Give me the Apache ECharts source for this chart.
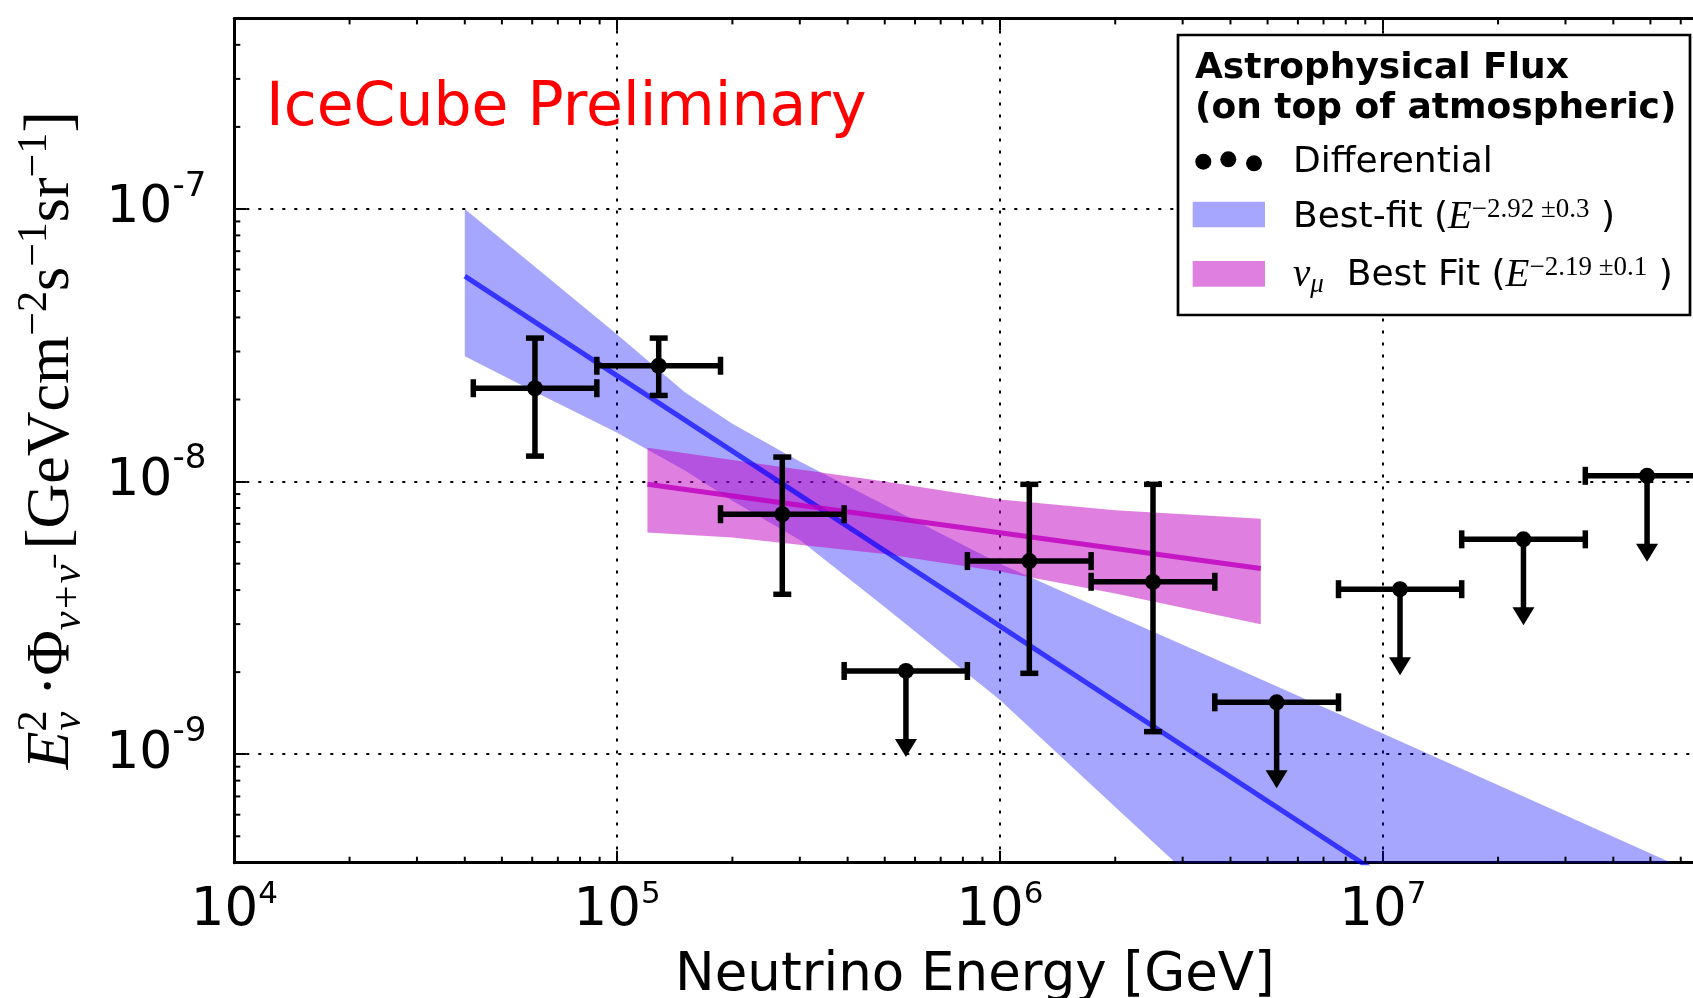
<!DOCTYPE html>
<html>
<head>
<meta charset="utf-8">
<title>Astrophysical neutrino flux</title>
<script src="https://cdn.jsdelivr.net/npm/echarts@6/dist/echarts.min.js"></script>
<style>
  html, body { margin: 0; padding: 0; background: #fff; overflow: hidden; width: 1693px; height: 998px; }
  #chart { width: 1760px; height: 998px; }
</style>
</head>
<body>
<div id="chart"></div>
<script>
// ---- Axis ranges (GeV, GeV cm^-2 s^-1 sr^-1) ----
const X_MIN = 1e4;
const X_MAX = 7.4e7;
const Y_MIN = 4e-10;
const Y_MAX = 5e-7;

// ---- Minor tick positions ----
const xMinorTicks = [2e4, 3e4, 4e4, 5e4, 6e4, 7e4, 8e4, 9e4,
  2e5, 3e5, 4e5, 5e5, 6e5, 7e5, 8e5, 9e5,
  2e6, 3e6, 4e6, 5e6, 6e6, 7e6, 8e6, 9e6,
  2e7, 3e7, 4e7, 5e7, 6e7, 7e7];
const yMinorTicks = [5e-10, 6e-10, 7e-10, 8e-10, 9e-10,
  2e-9, 3e-9, 4e-9, 5e-9, 6e-9, 7e-9, 8e-9, 9e-9,
  2e-8, 3e-8, 4e-8, 5e-8, 6e-8, 7e-8, 8e-8, 9e-8,
  2e-7, 3e-7, 4e-7];

// ---- Differential flux (E^2 * flux) per energy bin ----
const binCenter = [6.10e4, 1.284e5, 2.70e5, 5.68e5, 1.193e6, 2.51e6, 5.28e6, 1.109e7, 2.33e7, 4.90e7];
const binLow    = [4.21e4, 8.85e4, 1.862e5, 3.917e5, 8.22e5, 1.730e6, 3.64e6, 7.66e6, 1.607e7, 3.38e7];
const binHigh   = [8.85e4, 1.862e5, 3.917e5, 8.22e5, 1.730e6, 3.64e6, 7.66e6, 1.607e7, 3.38e7, 7.11e7];
const flux      = [2.20e-8, 2.66e-8, 7.59e-9, 2.02e-9, 5.11e-9, 4.29e-9, 1.55e-9, 4.03e-9, 6.14e-9, 1.05e-8];
const fluxLow   = [1.24e-8, 2.07e-8, 3.86e-9, null, 1.98e-9, 1.21e-9, null, null, null, null];
const fluxHigh  = [3.36e-8, 3.36e-8, 1.23e-8, null, 9.77e-9, 9.77e-9, null, null, null, null];
const isUpperLimit = [false, false, false, true, false, false, true, true, true, true];

// ---- Best-fit power law (E^-2.92) and its uncertainty band ----
const bestFitLineEnergy = [4.0e4, 1.0e6, 1.0e7];
const bestFitLineFlux   = [5.67e-8, 2.95e-9, 3.56e-10];
const bestFitBandEnergy = [4.0e4, 6e4, 1e5, 1.5e5, 2e5, 3e5, 5e5, 1e6, 2e6, 4e6, 1e7, 3e7, 7.4e7];
const bestFitBandUpper  = [1.0e-7, 6.26e-8, 3.46e-8, 2.13e-8, 1.63e-8, 1.186e-8, 8.2e-9, 5.0e-9, 3.24e-9, 2.11e-9, 1.19e-9, 5.97e-10, 3.38e-10];
const bestFitBandLower  = [2.88e-8, 2.16e-8, 1.51e-8, 1.10e-8, 8.5e-9, 6.1e-9, 3.47e-9, 1.58e-9, 6.4e-10, 2.6e-10, 7.8e-11, 2.0e-11, 6.0e-12];

// ---- Muon-neutrino best fit (E^-2.19) and its band ----
const numuLineEnergy = [1.2e5, 1.0e6, 4.8e6];
const numuLineFlux   = [9.77e-9, 6.49e-9, 4.80e-9];
const numuBandEnergy = [1.2e5, 2e5, 5e5, 1e6, 2e6, 4.8e6];
const numuBandUpper  = [1.33e-8, 1.20e-8, 1.0e-8, 8.6e-9, 7.85e-9, 7.3e-9];
const numuBandLower  = [6.5e-9, 6.24e-9, 5.43e-9, 4.68e-9, 3.89e-9, 3.0e-9];

// ---- Colours ----
const BLUE_BAND = 'rgba(0,0,255,0.35)';
const BLUE_LINE = 'rgba(0,0,255,0.68)';
const PINK_BAND = 'rgba(191,0,191,0.5)';
const PINK_LINE = 'rgba(191,0,191,0.82)';

const SANS = '"DejaVu Sans", "Noto Sans", sans-serif';
const SERIF = '"Liberation Serif", "DejaVu Serif", serif';

function decadeLabel(v) {
  const p = Math.log10(v);
  const k = Math.round(p);
  if (Math.abs(p - k) > 1e-6) return '';
  return '{b|10}{s|' + k + '}';
}

function bandRenderer(energy, upper, lower, color) {
  return function (params, api) {
    if (params.dataIndex !== 0) return null;
    const pts = [];
    for (let i = 0; i < energy.length; i++) pts.push(api.coord([energy[i], upper[i]]));
    for (let i = energy.length - 1; i >= 0; i--) pts.push(api.coord([energy[i], lower[i]]));
    return { type: 'polygon', shape: { points: pts }, style: { fill: color } };
  };
}

const BAR = { stroke: '#000', lineWidth: 5.5, fill: null };
const CAP = 9;

function renderPoint(params, api) {
  const i = params.dataIndex;
  const c = api.coord([binCenter[i], flux[i]]);
  const l = api.coord([binLow[i], flux[i]]);
  const r = api.coord([binHigh[i], flux[i]]);
  const kids = [
    { type: 'line', shape: { x1: l[0], y1: c[1], x2: r[0], y2: c[1] }, style: BAR },
    { type: 'line', shape: { x1: l[0], y1: c[1] - CAP, x2: l[0], y2: c[1] + CAP }, style: BAR },
    { type: 'line', shape: { x1: r[0], y1: c[1] - CAP, x2: r[0], y2: c[1] + CAP }, style: BAR }
  ];
  if (isUpperLimit[i]) {
    kids.push({ type: 'line', shape: { x1: c[0], y1: c[1], x2: c[0], y2: c[1] + 72 }, style: BAR });
    kids.push({ type: 'polygon', shape: { points: [[c[0] - 11, c[1] + 68], [c[0] + 11, c[1] + 68], [c[0], c[1] + 86]] }, style: { fill: '#000' } });
  } else {
    const t = api.coord([binCenter[i], fluxHigh[i]]);
    const b = api.coord([binCenter[i], fluxLow[i]]);
    kids.push({ type: 'line', shape: { x1: c[0], y1: t[1], x2: c[0], y2: b[1] }, style: BAR });
    kids.push({ type: 'line', shape: { x1: c[0] - CAP, y1: t[1], x2: c[0] + CAP, y2: t[1] }, style: BAR });
    kids.push({ type: 'line', shape: { x1: c[0] - CAP, y1: b[1], x2: c[0] + CAP, y2: b[1] }, style: BAR });
  }
  kids.push({ type: 'circle', shape: { cx: c[0], cy: c[1], r: 8 }, style: { fill: '#000' } });
  return { type: 'group', children: kids };
}

const TICK = { stroke: '#000', lineWidth: 2 };
function renderXMinor(params, api) {
  const v = xMinorTicks[params.dataIndex];
  const b = api.coord([v, Y_MIN]);
  const t = api.coord([v, Y_MAX]);
  return { type: 'group', children: [
    { type: 'line', shape: { x1: b[0], y1: b[1], x2: b[0], y2: b[1] - 6 }, style: TICK },
    { type: 'line', shape: { x1: t[0], y1: t[1], x2: t[0], y2: t[1] + 6 }, style: TICK }
  ] };
}
function renderYMinor(params, api) {
  const v = yMinorTicks[params.dataIndex];
  const l = api.coord([X_MIN, v]);
  const r = api.coord([X_MAX, v]);
  return { type: 'group', children: [
    { type: 'line', shape: { x1: l[0], y1: l[1], x2: l[0] + 6, y2: l[1] }, style: TICK },
    { type: 'line', shape: { x1: r[0], y1: r[1], x2: r[0] - 6, y2: r[1] }, style: TICK }
  ] };
}

const frameLine = { show: true, onZero: false, lineStyle: { color: '#000', width: 3 } };
const majorTick = { show: true, inside: true, length: 12, lineStyle: { color: '#000', width: 2 } };
const dotted = { show: true, lineStyle: { color: '#000', width: 2, type: [3, 9] } };

const chart = echarts.init(document.getElementById('chart'), null, { renderer: 'canvas' });

chart.setOption({
  animation: false,
  backgroundColor: '#fff',
  grid: { left: 234.3, right: 44.4, top: 18.4, bottom: 135.3, containLabel: false, outerBoundsMode: 'none' },
  xAxis: [{
    type: 'log', logBase: 10, min: X_MIN, max: X_MAX, position: 'bottom',
    axisLine: frameLine, axisTick: majorTick, splitLine: dotted,
    axisLabel: {
      formatter: decadeLabel, margin: 17, color: '#000',
      rich: {
        b: { fontFamily: SANS, fontSize: 53, lineHeight: 64, color: '#000' },
        s: { fontFamily: SANS, fontSize: 31, lineHeight: 30, verticalAlign: 'top', color: '#000' }
      }
    },
    name: 'Neutrino Energy [GeV]', nameLocation: 'middle', nameGap: 87,
    nameTextStyle: { fontFamily: SANS, fontSize: 53, color: '#000' }
  }, {
    type: 'log', logBase: 10, min: X_MIN, max: X_MAX, position: 'top',
    axisLine: frameLine, axisTick: majorTick, axisLabel: { show: false }, splitLine: { show: false }
  }],
  yAxis: [{
    type: 'log', logBase: 10, min: Y_MIN, max: Y_MAX, position: 'left',
    axisLine: frameLine, axisTick: majorTick, splitLine: dotted,
    axisLabel: {
      formatter: decadeLabel, margin: 28, color: '#000',
      rich: {
        b: { fontFamily: SANS, fontSize: 52, lineHeight: 78, color: '#000' },
        s: { fontFamily: SANS, fontSize: 34, lineHeight: 34, verticalAlign: 'top', color: '#000' }
      }
    }
  }, {
    type: 'log', logBase: 10, min: Y_MIN, max: Y_MAX, position: 'right',
    axisLine: frameLine, axisTick: majorTick, axisLabel: { show: false }, splitLine: { show: false }
  }],
  series: [
    {
      type: 'custom', name: 'Best-fit band', clip: true, z: 1, silent: true,
      renderItem: bandRenderer(bestFitBandEnergy, bestFitBandUpper, bestFitBandLower, BLUE_BAND),
      data: bestFitBandEnergy.map((e, i) => [e, bestFitBandUpper[i], bestFitBandLower[i]])
    },
    {
      type: 'custom', name: 'numu band', clip: true, z: 2, silent: true,
      renderItem: bandRenderer(numuBandEnergy, numuBandUpper, numuBandLower, PINK_BAND),
      data: numuBandEnergy.map((e, i) => [e, numuBandUpper[i], numuBandLower[i]])
    },
    {
      type: 'line', name: 'Best-fit', clip: true, z: 3, silent: true, symbol: 'none',
      lineStyle: { color: BLUE_LINE, width: 5 },
      data: bestFitLineEnergy.map((e, i) => [e, bestFitLineFlux[i]])
    },
    {
      type: 'line', name: 'numu best fit', clip: true, z: 4, silent: true, symbol: 'none',
      lineStyle: { color: PINK_LINE, width: 5 },
      data: numuLineEnergy.map((e, i) => [e, numuLineFlux[i]])
    },
    {
      type: 'custom', name: 'Differential', clip: false, z: 6, silent: true,
      renderItem: renderPoint,
      data: binCenter.map((e, i) => [e, flux[i]])
    },
    {
      type: 'custom', name: 'x minor ticks', clip: false, z: 7, silent: true,
      renderItem: renderXMinor,
      data: xMinorTicks.map(v => [v, Y_MIN])
    },
    {
      type: 'custom', name: 'y minor ticks', clip: false, z: 7, silent: true,
      renderItem: renderYMinor,
      data: yMinorTicks.map(v => [X_MIN, v])
    }
  ],
  graphic: [
    // Watermark
    {
      type: 'text', x: 266, y: 109, z: 50,
      style: { text: 'IceCube Preliminary', fill: '#ff0000', fontFamily: SANS, fontSize: 60, align: 'left', verticalAlign: 'middle' }
    },
    // Y-axis title
    {
      type: 'text', x: 52, y: 440, rotation: Math.PI / 2, z: 50,
      style: {
        text: '{mi|E}{supz|2}{subi|ν}{m| ·Φ}{subi|ν+ν\u0304}{m| [GeVcm}{sup|−2}{m|s}{sup|−1}{m|sr}{sup|−1}{br|]}',
        align: 'center', verticalAlign: 'middle', fill: '#000',
        rich: {
          m:    { fontFamily: SERIF, fontSize: 62, lineHeight: 76, align: 'left', fill: '#000' },
          br:   { fontFamily: SERIF, fontSize: 66, lineHeight: 76, align: 'left', fill: '#000' },
          mi:   { fontFamily: SERIF, fontSize: 62, fontStyle: 'italic', lineHeight: 76, align: 'left', fill: '#000' },
          sup:  { fontFamily: SERIF, fontSize: 42, lineHeight: 42, verticalAlign: 'top', align: 'left', fill: '#000' },
          supz: { fontFamily: SERIF, fontSize: 42, lineHeight: 42, verticalAlign: 'top', align: 'left', width: 1, fill: '#000' },
          subi: { fontFamily: SERIF, fontSize: 42, fontStyle: 'italic', lineHeight: 38, verticalAlign: 'bottom', align: 'left', fill: '#000' }
        }
      }
    },
    // Legend frame
    {
      type: 'rect', z: 100,
      shape: { x: 1178, y: 35, width: 512, height: 280 },
      style: { fill: '#fff', stroke: '#000', lineWidth: 2.7 }
    },
    {
      type: 'text', x: 1195, y: 69, z: 101,
      style: { text: 'Astrophysical Flux', fill: '#000', fontFamily: SANS, fontWeight: 'bold', fontSize: 36, align: 'left', verticalAlign: 'middle' }
    },
    {
      type: 'text', x: 1195, y: 109, z: 101,
      style: { text: '(on top of atmospheric)', fill: '#000', fontFamily: SANS, fontWeight: 'bold', fontSize: 36, align: 'left', verticalAlign: 'middle' }
    },
    { type: 'circle', z: 101, shape: { cx: 1203.3, cy: 161.7, r: 8 }, style: { fill: '#000' } },
    { type: 'circle', z: 101, shape: { cx: 1228.3, cy: 159.3, r: 8 }, style: { fill: '#000' } },
    { type: 'circle', z: 101, shape: { cx: 1254, cy: 163.3, r: 8 }, style: { fill: '#000' } },
    {
      type: 'text', x: 1293, y: 162.5, z: 101,
      style: { text: 'Differential', fill: '#000', fontFamily: SANS, fontSize: 36, align: 'left', verticalAlign: 'middle' }
    },
    { type: 'rect', z: 101, shape: { x: 1192.7, y: 201.7, width: 72.3, height: 25.6 }, style: { fill: BLUE_BAND } },
    {
      type: 'text', x: 1293, y: 218, z: 101,
      style: {
        text: '{t|Best-fit (}{e|E}{s|−2.92 ±0.3}{t| )}',
        align: 'left', verticalAlign: 'middle', fill: '#000',
        rich: {
          t: { fontFamily: SANS, fontSize: 36, lineHeight: 44, align: 'left', fill: '#000' },
          e: { fontFamily: SERIF, fontSize: 39, fontStyle: 'italic', lineHeight: 44, align: 'left', fill: '#000' },
          s: { fontFamily: SERIF, fontSize: 27, lineHeight: 27, verticalAlign: 'top', align: 'left', fill: '#000' }
        }
      }
    },
    { type: 'rect', z: 101, shape: { x: 1192.7, y: 261, width: 72.3, height: 25.7 }, style: { fill: PINK_BAND } },
    {
      type: 'text', x: 1293, y: 276, z: 101,
      style: {
        text: '{n|ν}{u|μ}{t|  Best Fit (}{e|E}{s|−2.19 ±0.1}{t| )}',
        align: 'left', verticalAlign: 'middle', fill: '#000',
        rich: {
          t: { fontFamily: SANS, fontSize: 36, lineHeight: 44, align: 'left', fill: '#000' },
          n: { fontFamily: SERIF, fontSize: 39, fontStyle: 'italic', lineHeight: 44, align: 'left', fill: '#000' },
          u: { fontFamily: SERIF, fontSize: 27, fontStyle: 'italic', lineHeight: 22, verticalAlign: 'bottom', align: 'left', fill: '#000' },
          e: { fontFamily: SERIF, fontSize: 39, fontStyle: 'italic', lineHeight: 44, align: 'left', fill: '#000' },
          s: { fontFamily: SERIF, fontSize: 27, lineHeight: 27, verticalAlign: 'top', align: 'left', fill: '#000' }
        }
      }
    }
  ]
});
</script>
</body>
</html>
